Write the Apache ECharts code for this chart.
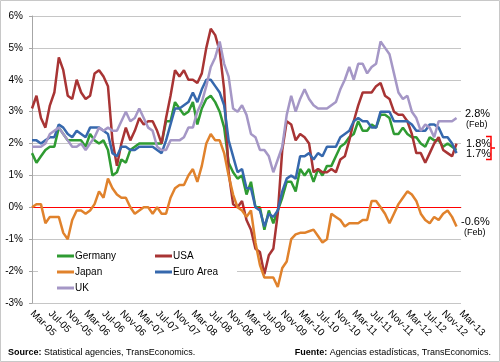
<!DOCTYPE html>
<html>
<head>
<meta charset="utf-8">
<script src="https://cdn.jsdelivr.net/npm/echarts@6/dist/echarts.min.js"></script>
<style>html,body{margin:0;padding:0;background:#fff}#c{width:500px;height:362px}</style>
</head>
<body>
<div id="c"></div>
<script>
const months = ['Mar-05','Apr-05','May-05','Jun-05','Jul-05','Aug-05','Sep-05','Oct-05','Nov-05','Dec-05',
'Jan-06','Feb-06','Mar-06','Apr-06','May-06','Jun-06','Jul-06','Aug-06','Sep-06','Oct-06','Nov-06','Dec-06',
'Jan-07','Feb-07','Mar-07','Apr-07','May-07','Jun-07','Jul-07','Aug-07','Sep-07','Oct-07','Nov-07','Dec-07',
'Jan-08','Feb-08','Mar-08','Apr-08','May-08','Jun-08','Jul-08','Aug-08','Sep-08','Oct-08','Nov-08','Dec-08',
'Jan-09','Feb-09','Mar-09','Apr-09','May-09','Jun-09','Jul-09','Aug-09','Sep-09','Oct-09','Nov-09','Dec-09',
'Jan-10','Feb-10','Mar-10','Apr-10','May-10','Jun-10','Jul-10','Aug-10','Sep-10','Oct-10','Nov-10','Dec-10',
'Jan-11','Feb-11','Mar-11','Apr-11','May-11','Jun-11','Jul-11','Aug-11','Sep-11','Oct-11','Nov-11','Dec-11',
'Jan-12','Feb-12','Mar-12','Apr-12','May-12','Jun-12','Jul-12','Aug-12','Sep-12','Oct-12','Nov-12','Dec-12',
'Jan-13','Feb-13','Mar-13'];

const germany = [1.7,1.4,1.6,1.8,1.9,1.9,2.5,2.3,2.1,2.1,
2.1,2.1,1.9,2.3,2.1,2.0,2.1,1.8,1.0,1.1,1.5,1.4,
1.8,1.9,2.0,2.0,2.0,2.0,2.0,2.0,2.7,2.7,3.3,3.1,
2.9,3.0,3.3,2.6,3.1,3.4,3.5,3.3,3.0,2.5,1.4,1.1,
0.9,1.0,0.4,0.8,0.0,0.0,-0.7,-0.1,-0.5,-0.1,0.3,0.8,
0.8,0.5,1.2,1.0,1.2,0.8,1.2,1.0,1.3,1.3,1.6,1.9,
2.0,2.2,2.3,2.7,2.4,2.4,2.6,2.5,2.9,2.9,2.8,2.3,
2.3,2.5,2.3,2.2,2.2,2.0,1.9,2.2,2.1,2.1,1.9,2.0,
1.9,1.8];

const usa = [3.1,3.5,2.8,2.5,3.2,3.6,4.7,4.3,3.5,3.4,
4.0,3.6,3.4,3.5,4.2,4.3,4.1,3.8,2.1,1.3,2.0,2.5,
2.1,2.4,2.8,2.6,2.7,2.7,2.4,2.0,2.8,3.5,4.3,4.1,
4.3,4.0,4.0,3.9,4.2,5.0,5.6,5.4,4.9,3.7,1.1,0.1,
0.0,0.2,-0.4,-0.7,-1.3,-1.4,-2.1,-1.5,-1.3,-0.2,1.8,2.7,
2.6,2.1,2.3,2.2,2.0,1.1,1.2,1.1,1.1,1.2,1.1,1.5,
1.6,2.1,2.7,3.2,3.6,3.6,3.6,3.8,3.9,3.5,3.4,3.0,
2.9,2.9,2.7,2.3,1.7,1.7,1.4,1.7,2.0,2.2,1.8,1.7,
1.6,2.0];

const japan = [0.0,0.1,0.1,-0.5,-0.3,-0.3,-0.3,-0.8,-1.0,-0.4,
-0.1,-0.1,-0.2,-0.1,0.1,0.5,0.3,0.9,0.6,0.4,0.3,0.3,
0.0,-0.2,-0.1,0.0,0.0,-0.2,0.0,-0.2,-0.2,0.3,0.6,0.7,
0.7,1.0,1.2,0.8,1.3,2.0,2.3,2.1,2.1,1.7,1.0,0.4,
0.0,-0.1,-0.3,-0.1,-1.1,-1.8,-2.2,-2.2,-2.2,-2.5,-1.9,-1.7,
-1.0,-0.85,-0.8,-0.8,-0.75,-0.7,-0.9,-1.1,-1.0,-0.2,-0.3,-0.4,
-0.6,-0.5,-0.5,-0.5,-0.4,-0.4,0.2,0.2,0.0,-0.2,-0.5,-0.2,
0.1,0.3,0.5,0.4,0.2,-0.2,-0.4,-0.5,-0.3,-0.4,-0.2,-0.1,
-0.3,-0.6];

const euroArea = [2.1,2.1,2.0,2.1,2.2,2.2,2.6,2.5,2.3,2.2,
2.4,2.3,2.2,2.5,2.5,2.5,2.4,2.3,1.7,1.6,1.9,1.9,
1.8,1.8,1.9,1.9,1.9,1.9,1.8,1.7,2.1,2.6,3.1,3.1,
3.2,3.3,3.6,3.3,3.7,4.0,4.0,3.8,3.6,3.2,2.1,1.6,
1.1,1.2,0.6,0.6,0.0,-0.1,-0.6,-0.2,-0.3,-0.1,0.5,0.9,
1.0,0.9,1.6,1.6,1.7,1.5,1.7,1.6,1.9,1.9,1.9,2.2,
2.3,2.4,2.7,2.8,2.7,2.7,2.5,2.5,3.0,3.0,3.0,2.7,
2.7,2.7,2.7,2.6,2.4,2.4,2.4,2.6,2.6,2.5,2.2,2.2,
2.0,1.7];

const uk = [1.9,1.9,1.9,2.0,2.3,2.4,2.5,2.3,2.1,1.9,
1.9,2.0,1.8,2.0,2.2,2.5,2.4,2.5,2.4,2.4,2.7,3.0,
2.7,2.8,3.1,2.8,2.5,2.4,1.9,1.8,1.8,2.1,2.1,2.1,
2.2,2.5,2.5,3.0,3.3,3.8,4.4,4.7,5.2,4.5,4.1,3.1,
3.0,3.2,2.9,2.3,2.2,1.8,1.8,1.6,1.1,1.5,1.9,2.9,
3.5,3.0,3.4,3.7,3.4,3.2,3.1,3.1,3.1,3.2,3.3,3.7,
4.0,4.4,4.0,4.5,4.5,4.2,4.4,4.5,5.2,5.0,4.8,4.2,
3.6,3.4,3.5,3.0,2.8,2.4,2.6,2.5,2.2,2.7,2.7,2.7,
2.7,2.8];

const seriesNames = ['Germany','USA','Japan','Euro Area','UK'];
const seriesColors = ['#2f9b32','#a83434','#e0822c','#3668ad','#a597c6'];
const seriesData = [germany, usa, japan, euroArea, uk];
const yTicks = {min: -3, max: 6, interval: 1};

const FONT = '"Liberation Sans", Arial, sans-serif';

const chart = echarts.init(document.getElementById('c'), null, {renderer: 'canvas'});

const series = seriesNames.map((n, k) => ({
  name: n,
  type: 'line',
  data: seriesData[k],
  symbol: 'none',
  smooth: false,
  lineStyle: {width: 2.5, color: seriesColors[k]},
  itemStyle: {color: seriesColors[k]},
  z: 3 + k
}));
series[0].markLine = {
  silent: true, symbol: ['none','none'], label: {show: false}, animation: false,
  lineStyle: {color: '#ff0000', width: 1, type: 'solid'},
  data: [{yAxis: 0}]
};

const legendCommon = {
  orient: 'vertical', padding: 0, itemGap: 4, icon: 'rect',
  itemWidth: 17, itemHeight: 3,
  textStyle: {fontSize: 10, fontFamily: FONT, color: '#000', lineHeight: 12, padding: [0,0,0,-4]}
};

chart.setOption({
  animation: false,
  backgroundColor: '#fff',
  grid: {left: 32, right: 39, top: 16, bottom: 59, containLabel: false},
  xAxis: {
    type: 'category', data: months, boundaryGap: false,
    axisLine: {show: true, lineStyle: {color: '#a6a6a6', width: 1}},
    axisTick: {show: false},
    splitLine: {show: false},
    axisLabel: {interval: 3, rotate: -45, margin: 9, fontSize: 10, fontFamily: FONT, color: '#000'}
  },
  yAxis: {
    type: 'value', min: yTicks.min, max: yTicks.max, interval: yTicks.interval,
    axisLine: {show: true, lineStyle: {color: '#a6a6a6', width: 1}},
    axisTick: {show: true, length: 3, lineStyle: {color: '#a6a6a6'}},
    splitLine: {show: true, lineStyle: {color: '#c6c6c6', width: 1}},
    axisLabel: {formatter: '{value}%', margin: 9, fontSize: 10, fontFamily: FONT, color: '#000'}
  },
  legend: [
    Object.assign({left: 57, top: 250, data: ['Germany','Japan','UK']}, legendCommon),
    Object.assign({left: 155, top: 250, data: ['USA','Euro Area']}, legendCommon)
  ],
  graphic: {elements: [
    {type: 'rect', z: 1, silent: true, shape: {x: 38, y: 244, width: 199, height: 57}, style: {fill: '#fff'}},
    {type: 'rect', z: 100, silent: true, shape: {x: 0.5, y: 0.5, width: 499, height: 361}, style: {fill: 'none', stroke: '#c8c8c8', lineWidth: 1}},
    {type: 'text', z: 100, x: 465, y: 114, style: {text: '2.8%', fontSize: 11, fontFamily: FONT, fill: '#000', verticalAlign: 'middle'}},
    {type: 'text', z: 100, x: 466, y: 125, style: {text: '(Feb)', fontSize: 9, fontFamily: FONT, fill: '#000', verticalAlign: 'middle'}},
    {type: 'text', z: 100, x: 466, y: 144, style: {text: '1.8%', fontSize: 11, fontFamily: FONT, fill: '#000', verticalAlign: 'middle'}},
    {type: 'text', z: 100, x: 466, y: 154, style: {text: '1.7%', fontSize: 11, fontFamily: FONT, fill: '#000', verticalAlign: 'middle'}},
    {type: 'polyline', z: 100, shape: {points: [[486,136.5],[491,136.5],[491,159.5],[486,159.5]]}, style: {stroke: '#ff0000', lineWidth: 1.5, fill: 'none'}},
    {type: 'line', z: 100, shape: {x1: 491, y1: 148, x2: 495, y2: 148}, style: {stroke: '#ff0000', lineWidth: 1.5}},
    {type: 'text', z: 100, x: 461, y: 222, style: {text: '-0.6%', fontSize: 11, fontFamily: FONT, fill: '#000', verticalAlign: 'middle'}},
    {type: 'text', z: 100, x: 464, y: 233, style: {text: '(Feb)', fontSize: 9, fontFamily: FONT, fill: '#000', verticalAlign: 'middle'}},
    {type: 'text', z: 100, x: 8, y: 353, style: {text: '{b|Source:} Statistical agencies, TransEconomics.', fontSize: 9, fontFamily: FONT, fill: '#000', verticalAlign: 'middle', rich: {b: {fontWeight: 'bold', fontSize: 9, fontFamily: FONT}}}},
    {type: 'text', z: 100, x: 491, y: 353, style: {text: '{b|Fuente:} Agencias estadísticas, TransEconomics.', fontSize: 9, fontFamily: FONT, fill: '#000', align: 'right', verticalAlign: 'middle', rich: {b: {fontWeight: 'bold', fontSize: 9, fontFamily: FONT}}}}
  ]},
  series: series
});
</script>
</body>
</html>
